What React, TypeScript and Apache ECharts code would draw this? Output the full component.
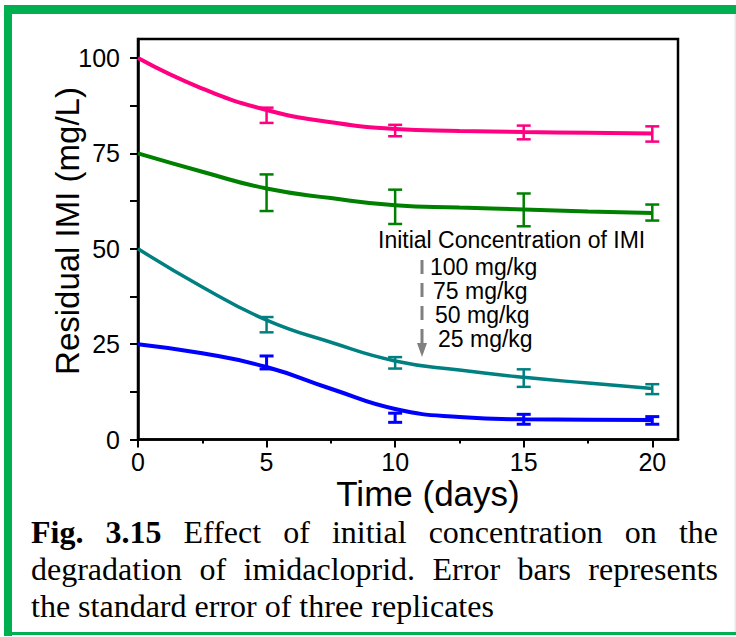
import React, { useEffect, useRef } from "react";
import * as echarts from "echarts";

// fitted curves
const fitDays = [0, 2.5, 5, 7.5, 10, 12.5, 15, 17.5, 20];
const fit100 = [100, 92.0, 86.4, 83.2, 81.4, 80.9, 80.6, 80.4, 80.2];
const fit75 = [75, 70.2, 65.8, 63.3, 61.4, 60.8, 60.3, 59.8, 59.4];
const fit50 = [50, 40.0, 31.3, 25.5, 20.6, 18.2, 16.3, 14.8, 13.4];
const fit25 = [25, 22.6, 19.0, 13.3, 8.0, 5.9, 5.3, 5.2, 5.1];

// measured means and standard errors
const sampleDays = [5, 10, 15, 20];
const mean100 = [85.0, 81.0, 80.5, 80.1];
const se100 = [2.0, 1.5, 1.8, 2.0];
const mean75 = [64.7, 61.0, 60.2, 59.5];
const se75 = [4.8, 4.5, 4.3, 2.1];
const mean50 = [30.1, 20.1, 16.1, 13.2];
const se50 = [2.0, 1.5, 2.3, 1.3];
const mean25 = [20.2, 5.7, 5.3, 5.0];
const se25 = [1.7, 1.2, 1.3, 1.0];

const xMajorTicks = [0, 5, 10, 15, 20];
const xMinorTicks = [2.5, 7.5, 12.5, 17.5];
const yTicks = [0, 12.5, 25, 37.5, 50, 62.5, 75, 87.5, 100];
const yLabels = [0, 25, 50, 75, 100];

const legendTitle = "Initial Concentration of IMI";
const legendItems = ["100 mg/kg", "75 mg/kg", "50 mg/kg", "25 mg/kg"];

const C100 = "#FF0080";
const C75 = "#008000";
const C50 = "#008080";
const C25 = "#0000FF";

const SANS = "'Liberation Sans', Arial, sans-serif";

function curve(name: string, color: string, vals: number[], width: number) {
  return {
    type: "line",
    name,
    xAxisIndex: 0,
    yAxisIndex: 0,
    data: fitDays.map((d, i) => [d, vals[i]]),
    smooth: 0.5,
    showSymbol: false,
    symbol: "none",
    lineStyle: { color, width },
    z: 2,
  };
}

function errorBars(name: string, color: string, means: number[], ses: number[], width: number) {
  return {
    type: "custom",
    name,
    xAxisIndex: 0,
    yAxisIndex: 0,
    data: sampleDays.map((d, i) => [d, means[i] - ses[i], means[i] + ses[i]]),
    encode: { x: 0, y: [1, 2] },
    z: 3,
    renderItem: (_params: any, api: any) => {
      const x = api.value(0);
      const lo = api.coord([x, api.value(1)]);
      const hi = api.coord([x, api.value(2)]);
      const hw = 7;
      const style = { stroke: color, lineWidth: width, fill: "none" };
      return {
        type: "group",
        children: [
          { type: "line", shape: { x1: lo[0], y1: lo[1], x2: hi[0], y2: hi[1] }, style },
          { type: "line", shape: { x1: lo[0] - hw, y1: lo[1], x2: lo[0] + hw, y2: lo[1] }, style },
          { type: "line", shape: { x1: hi[0] - hw, y1: hi[1], x2: hi[0] + hw, y2: hi[1] }, style },
        ],
      };
    },
  };
}

export default function App() {
  const ref = useRef<HTMLDivElement>(null);
  useEffect(() => {
    if (!ref.current) return;
    const chart = echarts.init(ref.current, undefined, { renderer: "svg" });
    const legendX = [430, 433, 435, 438];
    const legendY = [267, 291, 315, 339];
    chart.setOption({
      animation: false,
      backgroundColor: "#fff",
      grid: {
        left: 138,
        top: 39,
        right: 58,
        bottom: 197.5,
        show: true,
        borderColor: "#000",
        borderWidth: 2.5,
        backgroundColor: "transparent",
      },
      xAxis: [
        {
          type: "value",
          min: 0,
          max: 21,
          interval: 5,
          position: "bottom",
          splitLine: { show: false },
          axisLine: { show: true, onZero: false, lineStyle: { color: "#000", width: 2.5 } },
          axisTick: { show: true, customValues: xMajorTicks, length: 8, lineStyle: { color: "#000", width: 2 } },
          axisLabel: {
            customValues: xMajorTicks,
            color: "#000",
            fontSize: 25,
            fontFamily: SANS,
            margin: 10,
          },
        },
        {
          type: "value",
          min: 0,
          max: 21,
          position: "bottom",
          splitLine: { show: false },
          axisLine: { show: false },
          axisTick: { show: true, customValues: xMinorTicks, length: 4, lineStyle: { color: "#000", width: 2 } },
          axisLabel: { show: false },
        },
      ],
      yAxis: [
        {
          type: "value",
          min: 0,
          max: 105,
          interval: 25,
          splitLine: { show: false },
          axisLine: { show: true, onZero: false, lineStyle: { color: "#000", width: 2.5 } },
          axisTick: { show: true, customValues: yTicks, length: 8, lineStyle: { color: "#000", width: 2 } },
          axisLabel: {
            customValues: yLabels,
            color: "#000",
            fontSize: 25,
            fontFamily: SANS,
            margin: 18,
          },
        },
      ],
      series: [
        curve("100 mg/kg", C100, fit100, 4),
        curve("75 mg/kg", C75, fit75, 4),
        curve("50 mg/kg", C50, fit50, 3.5),
        curve("25 mg/kg", C25, fit25, 4),
        errorBars("100 mg/kg SE", C100, mean100, se100, 2.5),
        errorBars("75 mg/kg SE", C75, mean75, se75, 2.5),
        errorBars("50 mg/kg SE", C50, mean50, se50, 2.5),
        errorBars("25 mg/kg SE", C25, mean25, se25, 3),
      ],
      graphic: [
        // page frame
        { type: "rect", shape: { x: 4, y: 5, width: 732, height: 9 }, style: { fill: "#00B050" }, silent: true },
        { type: "rect", shape: { x: 4, y: 5, width: 8, height: 631 }, style: { fill: "#00B050" }, silent: true },
        { type: "rect", shape: { x: 4, y: 632, width: 732, height: 3 }, style: { fill: "#00B050" }, silent: true },
        { type: "rect", shape: { x: 734.5, y: 14, width: 1.5, height: 618 }, style: { fill: "#DDF0E4" }, silent: true },
        // axis titles
        {
          type: "text",
          x: 428,
          y: 493,
          style: {
            text: "Time (days)",
            font: `35px ${SANS}`,
            fill: "#000",
            textAlign: "center",
            textVerticalAlign: "middle",
          },
        },
        {
          type: "text",
          x: 67,
          y: 231,
          rotation: Math.PI / 2,
          style: {
            text: "Residual IMI (mg/L)",
            font: `33px ${SANS}`,
            fill: "#000",
            textAlign: "center",
            textVerticalAlign: "middle",
          },
        },
        // legend annotation
        {
          type: "text",
          x: 378,
          y: 240,
          style: {
            text: legendTitle,
            font: `23px ${SANS}`,
            fill: "#000",
            textAlign: "left",
            textVerticalAlign: "middle",
          },
        },
        ...legendItems.map((t, i) => ({
          type: "text",
          x: legendX[i],
          y: legendY[i],
          style: {
            text: t,
            font: `23px ${SANS}`,
            fill: "#000",
            textAlign: "left",
            textVerticalAlign: "middle",
          },
        })),
        {
          type: "line",
          shape: { x1: 422, y1: 260, x2: 422, y2: 345 },
          style: { stroke: "#808080", lineWidth: 3, lineDash: [14, 9] },
        },
        {
          type: "polygon",
          shape: { points: [[417, 343], [427, 343], [422, 357]] },
          style: { fill: "#808080" },
        },
      ],
    });
    return () => chart.dispose();
  }, []);

  return (
    <div style={{ position: "absolute", left: 0, top: 0, width: 736, height: 637, background: "#fff" }}>
      <div ref={ref} style={{ position: "absolute", left: 0, top: 0, width: 736, height: 637 }} />
      <div
        style={{
          position: "absolute",
          left: 31,
          top: 514,
          width: 687,
          fontFamily: "'Liberation Serif', 'Times New Roman', serif",
          fontSize: 32,
          lineHeight: "37px",
          color: "#000",
        }}
      >
        <div style={{ textAlign: "justify", textAlignLast: "justify" }}>
          <b>Fig. 3.15</b> Effect of initial concentration on the
        </div>
        <div style={{ textAlign: "justify", textAlignLast: "justify" }}>
          degradation of imidacloprid. Error bars represents
        </div>
        <div style={{ textAlign: "left" }}>the standard error of three replicates</div>
      </div>
    </div>
  );
}
